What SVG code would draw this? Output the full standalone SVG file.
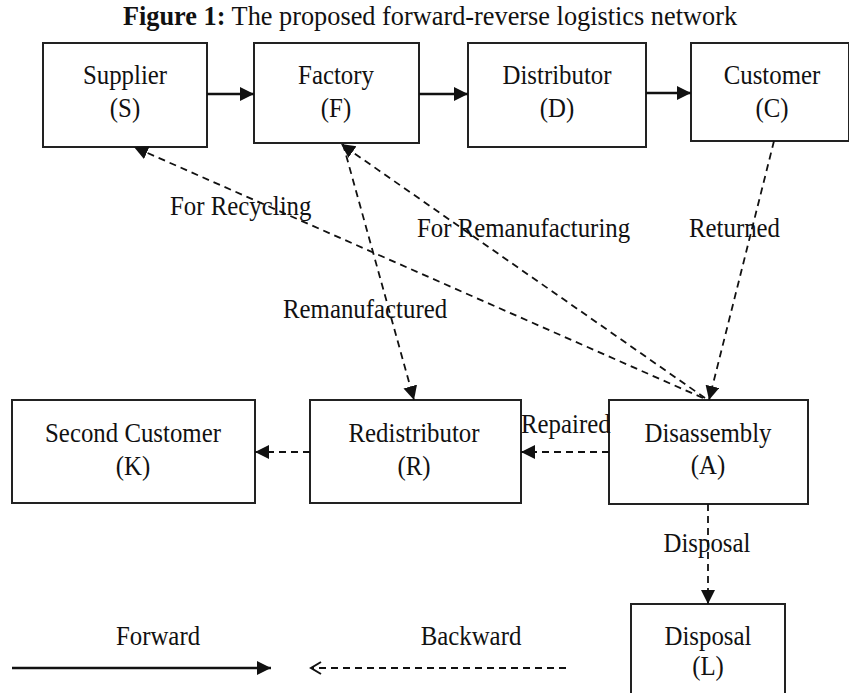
<svg xmlns="http://www.w3.org/2000/svg" width="849" height="693" viewBox="0 0 849 693">
  <style>
    .box { fill: #ffffff; stroke: #222; stroke-width: 2; }
    .lbl { font-family: "Liberation Serif", "Times New Roman", serif; font-size: 27px; fill: #111; text-anchor: middle; }
    .edge { font-family: "Liberation Serif", "Times New Roman", serif; font-size: 27px; fill: #111; }
    .title { font-family: "Liberation Serif", "Times New Roman", serif; font-size: 28px; fill: #111; text-anchor: middle; }
    .solid { fill: none; stroke: #111; stroke-width: 2.5; }
    .dash { fill: none; stroke: #111; stroke-width: 1.8; stroke-dasharray: 7 5; }
  </style>
  <defs>
    <marker id="head" markerUnits="userSpaceOnUse" markerWidth="16" markerHeight="16" refX="14" refY="7" orient="auto">
      <path d="M0,0 L14,7 L0,14 Z" fill="#111"/>
    </marker>
    <marker id="open" markerUnits="userSpaceOnUse" markerWidth="14" markerHeight="16" refX="11" refY="7" orient="auto">
      <path d="M1,1 L11,7 L1,13" fill="none" stroke="#111" stroke-width="2"/>
    </marker>
  </defs>

  <rect width="849" height="693" fill="#ffffff"/>

  <!-- texts are set in a slightly narrowed serif: translate to the anchor, then scale x -->
  <text class="title" transform="translate(430,25) scale(0.94,1)"><tspan font-weight="bold">Figure 1:</tspan> The proposed forward-reverse logistics network</text>

  <!-- forward chain -->
  <g id="supplier">
    <rect class="box" x="43" y="43" width="164" height="104"/>
    <text class="lbl" transform="translate(125,84) scale(0.92,1)">Supplier</text>
    <text class="lbl" transform="translate(125,117) scale(0.92,1)">(S)</text>
  </g>
  <g id="factory">
    <rect class="box" x="254" y="43" width="165" height="100"/>
    <text class="lbl" transform="translate(336,84) scale(0.92,1)">Factory</text>
    <text class="lbl" transform="translate(336,117) scale(0.92,1)">(F)</text>
  </g>
  <g id="distributor">
    <rect class="box" x="468" y="43" width="178" height="104"/>
    <text class="lbl" transform="translate(557,84) scale(0.92,1)">Distributor</text>
    <text class="lbl" transform="translate(557,117) scale(0.92,1)">(D)</text>
  </g>
  <g id="customer">
    <rect class="box" x="691" y="43" width="158" height="98"/>
    <text class="lbl" transform="translate(772,84) scale(0.92,1)">Customer</text>
    <text class="lbl" transform="translate(772,117) scale(0.92,1)">(C)</text>
  </g>

  <!-- reverse chain -->
  <g id="second-customer">
    <rect class="box" x="12" y="400" width="243" height="103"/>
    <text class="lbl" transform="translate(133,442) scale(0.92,1)">Second Customer</text>
    <text class="lbl" transform="translate(133,475) scale(0.92,1)">(K)</text>
  </g>
  <g id="redistributor">
    <rect class="box" x="310" y="400" width="211" height="103"/>
    <text class="lbl" transform="translate(414,442) scale(0.92,1)">Redistributor</text>
    <text class="lbl" transform="translate(414,475) scale(0.92,1)">(R)</text>
  </g>
  <g id="disassembly">
    <rect class="box" x="609" y="400" width="199" height="104"/>
    <text class="lbl" transform="translate(708,442) scale(0.92,1)">Disassembly</text>
    <text class="lbl" transform="translate(708,474) scale(0.92,1)">(A)</text>
  </g>
  <g id="disposal">
    <rect class="box" x="631" y="604" width="154" height="100"/>
    <text class="lbl" transform="translate(708,645) scale(0.92,1)">Disposal</text>
    <text class="lbl" transform="translate(708,675) scale(0.92,1)">(L)</text>
  </g>

  <g id="connectors">
    <line class="solid" x1="207" y1="94" x2="254" y2="94" marker-end="url(#head)"/>
    <line class="solid" x1="419" y1="94" x2="468" y2="94" marker-end="url(#head)"/>
    <line class="solid" x1="646" y1="93" x2="691" y2="93" marker-end="url(#head)"/>

    <line class="dash" x1="703" y1="398" x2="134" y2="147" marker-end="url(#head)"/>
    <line class="dash" x1="705" y1="398" x2="341" y2="144" marker-end="url(#head)"/>
    <line class="dash" x1="343" y1="144" x2="414" y2="400" marker-end="url(#head)"/>
    <line class="dash" x1="774" y1="141" x2="709" y2="400" marker-end="url(#head)"/>

    <line class="dash" x1="609" y1="452" x2="521" y2="452" marker-end="url(#head)"/>
    <line class="dash" x1="310" y1="452" x2="255" y2="452" marker-end="url(#head)"/>
    <line class="dash" x1="708" y1="504" x2="708" y2="604" marker-end="url(#head)"/>

    <text class="edge" transform="translate(170,215) scale(0.92,1)">For Recycling</text>
    <text class="edge" transform="translate(417,237) scale(0.92,1)">For Remanufacturing</text>
    <text class="edge" transform="translate(689,237) scale(0.92,1)">Returned</text>
    <text class="edge" transform="translate(283,318) scale(0.92,1)">Remanufactured</text>
    <text class="edge" transform="translate(521,433) scale(0.92,1)">Repaired</text>
    <text class="lbl" transform="translate(707,552) scale(0.92,1)">Disposal</text>
  </g>

  <!-- legend -->
  <g id="legend">
    <text class="lbl" transform="translate(158,645) scale(0.92,1)">Forward</text>
    <line class="solid" x1="12" y1="668" x2="271" y2="668" stroke-width="3" marker-end="url(#head)"/>
    <text class="lbl" transform="translate(471,645) scale(0.92,1)">Backward</text>
    <line class="dash" x1="566" y1="668" x2="311" y2="668" marker-end="url(#open)"/>
  </g>
</svg>
